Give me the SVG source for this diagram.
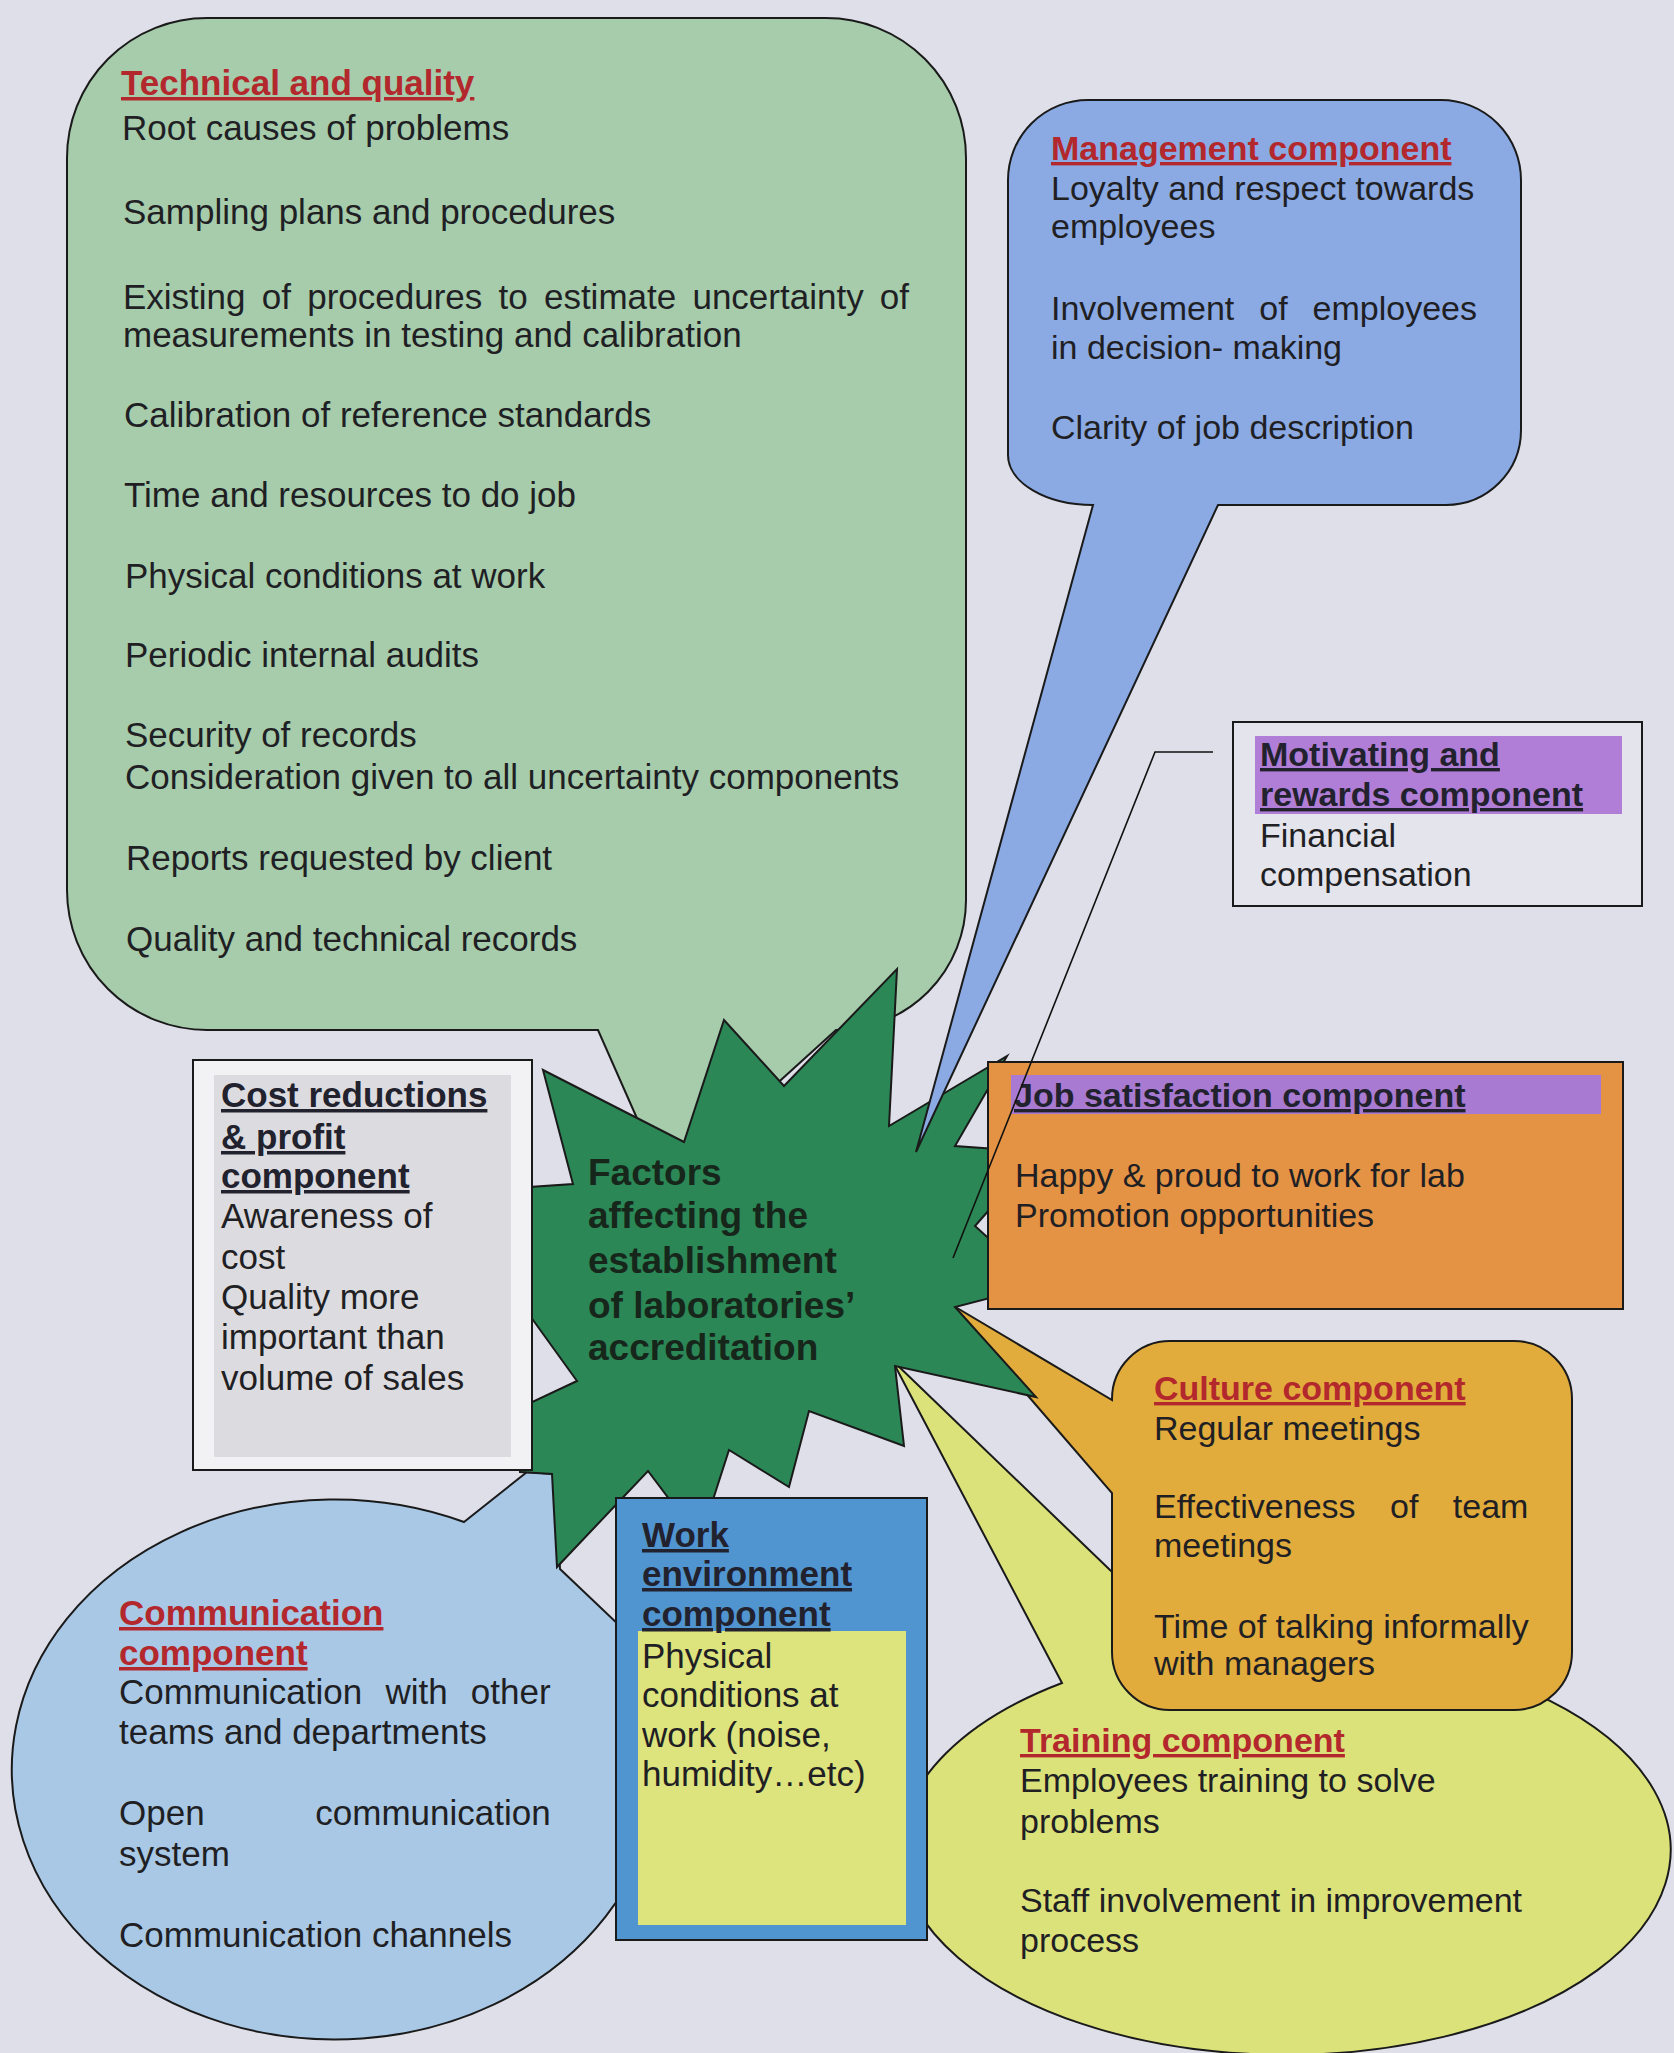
<svg xmlns="http://www.w3.org/2000/svg" width="1674" height="2053" viewBox="0 0 1674 2053">
<style>
text{font-family:"Liberation Sans",Arial,sans-serif;fill:#1f1f24}
.b35{font-size:35px}
.b34{font-size:34px}
.t35{font-size:35px;font-weight:bold;text-decoration:underline}
.t34{font-size:34px;font-weight:bold;text-decoration:underline}
.red{fill:#b3282d}
.dark{fill:#22222e}
.shape{stroke:#1a1a1a;stroke-width:2;stroke-linejoin:miter}
.star{font-size:37px;font-weight:bold;fill:#17261b}
</style>
<rect x="0" y="0" width="1674" height="2053" fill="#dedfe8"/>

<g id="technical">
<path class="shape" fill="#a6ccac" d="M207,18 H826 A140,140 0 0 1 966,158 V900 A130,130 0 0 1 836,1030 L666,1184 L598,1030 H207 A140,140 0 0 1 67,890 V158 A140,140 0 0 1 207,18 Z"/>
<text class="t35 red" x="121" y="95">Technical and quality</text>
<text class="b35" x="122" y="140">Root causes of problems</text>
<text class="b35" x="123" y="224">Sampling plans and procedures</text>
<text class="b35" x="123" y="309" word-spacing="6.5">Existing of procedures to estimate uncertainty of</text>
<text class="b35" x="123" y="347">measurements in testing and calibration</text>
<text class="b35" x="124" y="427">Calibration of reference standards</text>
<text class="b35" x="124" y="507">Time and resources to do job</text>
<text class="b35" x="125" y="588">Physical conditions at work</text>
<text class="b35" x="125" y="667">Periodic internal audits</text>
<text class="b35" x="125" y="747">Security of records</text>
<text class="b35" x="125" y="789">Consideration given to all uncertainty components</text>
<text class="b35" x="126" y="870">Reports requested by client</text>
<text class="b35" x="126" y="951">Quality and technical records</text>
</g>

<g id="communication">
<path class="shape" fill="#a8c8e6" d="M464,1522 L527,1472 L555,1474 L560,1569 L620,1626 L640,1681 A323,270 0 1 1 464,1522 Z"/>
<text class="t35 red" x="119" y="1625">Communication</text>
<text class="t35 red" x="119" y="1665">component</text>
<text class="b35" x="119" y="1704" word-spacing="13.5">Communication with other</text>
<text class="b35" x="119" y="1744">teams and departments</text>
<text class="b35" x="119" y="1825" word-spacing="101">Open communication</text>
<text class="b35" x="119" y="1866">system</text>
<text class="b35" x="119" y="1947">Communication channels</text>
</g>

<g id="training">
<path class="shape" fill="#dce27a" d="M1062,1683 L892,1360 L1110,1570 L1200,1650 A385,205 0 1 1 1062,1683 Z"/>
<text class="t34 red" x="1020" y="1752">Training component</text>
<text class="b34" x="1020" y="1792">Employees training to solve</text>
<text class="b34" x="1020" y="1833">problems</text>
<text class="b34" x="1020" y="1912">Staff involvement in improvement</text>
<text class="b34" x="1020" y="1952">process</text>
</g>

<g id="culture">
<path class="shape" fill="#e2ac3c" d="M1170,1341 H1514 A58,58 0 0 1 1572,1399 V1652 A58,58 0 0 1 1514,1710 H1170 A58,58 0 0 1 1112,1652 V1493 L947,1302 L1112,1400 V1399 A58,58 0 0 1 1170,1341 Z"/>
<text class="t34 red" x="1154" y="1400">Culture component</text>
<text class="b34" x="1154" y="1440">Regular meetings</text>
<text class="b34" x="1154" y="1518" word-spacing="25">Effectiveness of team</text>
<text class="b34" x="1154" y="1557">meetings</text>
<text class="b34" x="1154" y="1638">Time of talking informally</text>
<text class="b34" x="1154" y="1675">with managers</text>
</g>

<g id="center">
<polygon class="shape" fill="#2b8755" points="543,1070 684,1142 724,1020 784,1086 897,969 889,1126 1007,1056 955,1146 1040,1152 975,1226 1040,1285 955,1307 1036,1397 895,1366 904,1446 809,1411 789,1487 729,1450 700,1540 648,1471 557,1567 552,1474 520,1472 515,1410 577,1381 515,1295 515,1188 573,1184"/>
<text class="star" x="588" y="1185">Factors</text>
<text class="star" x="588" y="1228">affecting the</text>
<text class="star" x="588" y="1273">establishment</text>
<text class="star" x="588" y="1318">of laboratories’</text>
<text class="star" x="588" y="1360">accreditation</text>
</g>

<g id="management">
<path class="shape" fill="#8baae4" d="M1088,100 H1441 A80,80 0 0 1 1521,180 V430 A75,75 0 0 1 1446,505 H1218 L916,1152 L1093,505 A85,50 0 0 1 1008,455 V180 A80,80 0 0 1 1088,100 Z"/>
<text class="t34 red" x="1051" y="160">Management component</text>
<text class="b34" x="1051" y="200">Loyalty and respect towards</text>
<text class="b34" x="1051" y="238">employees</text>
<text class="b34" x="1051" y="320" word-spacing="15.5">Involvement of employees</text>
<text class="b34" x="1051" y="359">in decision- making</text>
<text class="b34" x="1051" y="439">Clarity of job description</text>
</g>

<g id="cost">
<rect class="shape" x="193" y="1060" width="339" height="410" fill="#f2f2f5"/>
<rect x="214" y="1075" width="297" height="382" fill="#dcdce0"/>
<text class="t35 dark" x="221" y="1107">Cost reductions</text>
<text class="t35 dark" x="221" y="1149">&amp; profit</text>
<text class="t35 dark" x="221" y="1188">component</text>
<text class="b35" x="221" y="1228">Awareness of</text>
<text class="b35" x="221" y="1269">cost</text>
<text class="b35" x="221" y="1309">Quality more</text>
<text class="b35" x="221" y="1349">important than</text>
<text class="b35" x="221" y="1390">volume of sales</text>
</g>

<g id="work">
<rect class="shape" x="616" y="1498" width="311" height="442" fill="#5094d0"/>
<rect x="638" y="1631" width="268" height="294" fill="#dde37d"/>
<text class="t35 dark" x="642" y="1547">Work</text>
<text class="t35 dark" x="642" y="1586">environment</text>
<text class="t35 dark" x="642" y="1626">component</text>
<text class="b35" x="642" y="1668">Physical</text>
<text class="b35" x="642" y="1707">conditions at</text>
<text class="b35" x="642" y="1747">work (noise,</text>
<text class="b35" x="642" y="1786">humidity…etc)</text>
</g>

<g id="job">
<rect class="shape" x="988" y="1062" width="635" height="247" fill="#e49244"/>
<rect x="1011" y="1075" width="590" height="39" fill="#a87ad2"/>
<text class="t34 dark" x="1014" y="1107">Job satisfaction component</text>
<text class="b34" x="1015" y="1187">Happy &amp; proud to work for lab</text>
<text class="b34" x="1015" y="1227">Promotion opportunities</text>
</g>

<g id="motivating">
<rect class="shape" x="1233" y="722" width="409" height="184" fill="#e4e4ec"/>
<rect x="1255" y="736" width="367" height="78" fill="#b07ed6"/>
<text class="t34 dark" x="1260" y="766">Motivating and</text>
<text class="t34 dark" x="1260" y="806">rewards component</text>
<text class="b34" x="1260" y="847">Financial</text>
<text class="b34" x="1260" y="886">compensation</text>
</g>

<g id="connectors">
<polyline points="1213,752 1155,752 953,1258" fill="none" stroke="#111" stroke-width="1.6"/>
</g>
</svg>
